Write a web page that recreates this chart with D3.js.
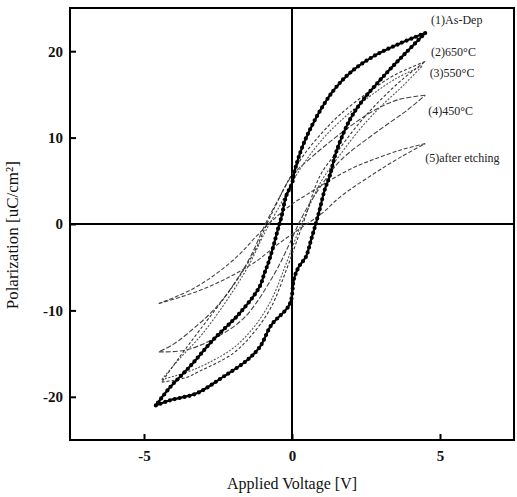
<!DOCTYPE html>
<meta charset="utf-8">
<style>
body { margin: 0; background: #fff; }
svg { display: block; }
.tick text { font-family: "Liberation Serif", "DejaVu Serif", serif; font-size: 15px; font-weight: bold; fill: #111; }
.title { font-family: "Liberation Serif", serif; font-size: 16px; fill: #111; text-anchor: middle; }
.lab { font-family: "Liberation Serif", serif; font-size: 12px; fill: #222; }
</style>
<body>
<script src="https://cdn.jsdelivr.net/npm/d3@7"></script>
<script>
// hysteresis loops, [voltage, polarization]
// each loop: upper branch (from +Vmax down to -Vmax) then lower branch back up
var asDepUp = [[4.5,22.1],[3.65,20.9],[2.75,19.4],[1.96,17.5],[1.39,15.4],[0.83,12.4],[0.38,9.2],[0.1,6.3],[0,4.7],[-0.2,3.2],[-0.35,0.9],[-0.45,-0.3],[-0.6,-2.2],[-0.77,-4.2],[-0.93,-5.7],[-1.1,-7.3],[-1.76,-10.3],[-2.66,-13.4],[-3.45,-16.5],[-4.12,-18.9],[-4.6,-21]];
var asDepDown = [[-4.6,-21],[-4.12,-20.4],[-3.22,-19.6],[-2.33,-17.7],[-1.53,-15.8],[-1.08,-14.2],[-0.7,-11.7],[-0.08,-9.3],[0.07,-6.3],[0.24,-4.9],[0.47,-3.8],[0.64,-1.9],[0.81,0.1],[0.93,1.6],[1.1,3.9],[1.27,5.5],[1.5,8.4],[1.96,12.1],[2.41,14.4],[3.2,17.5],[3.87,19.9],[4.5,22.1]];

var t650Up = [[4.5,18.8],[3.5,17.3],[2.6,15.3],[1.6,12.6],[0.95,10.3],[0.4,8.0],[0,5.8],[-0.4,3.2],[-0.85,0],[-1.3,-3.4],[-2.0,-7.2],[-3.1,-12.2],[-3.8,-15.4],[-4.4,-18.3]];
var t650Down = [[-4.4,-18.3],[-3.6,-17.8],[-3.1,-17.0],[-2.0,-15.0],[-1.3,-12.6],[-0.7,-9.6],[-0.2,-5.4],[0.2,-1.6],[0.45,0.8],[0.95,5.6],[1.6,8.7],[2.3,11.8],[3.0,14.4],[3.75,16.8],[4.5,18.8]];

var t550Up = [[4.4,18.3],[3.5,16.8],[2.6,14.7],[1.6,11.8],[0.95,9.5],[0.4,7.0],[0,4.8],[-0.4,2.2],[-0.95,-1.2],[-1.4,-4.4],[-2.0,-7.8],[-3.0,-12.6],[-3.8,-15.6],[-4.4,-18.0]];
var t550Down = [[-4.4,-18.0],[-3.6,-17.2],[-2.9,-16.2],[-2.0,-14.4],[-1.3,-12.0],[-0.7,-8.8],[-0.2,-4.6],[0.2,-1.0],[0.5,1.4],[1.0,5.0],[1.6,7.9],[2.3,11.0],[3.0,13.6],[3.75,16.0],[4.4,18.3]];

var t450Up = [[4.5,14.9],[3.6,14.4],[2.8,13.2],[1.65,10.5],[0.55,7.4],[0,5.6],[-0.5,2.6],[-0.9,0],[-1.5,-4.4],[-2.5,-9.4],[-3.5,-12.6],[-4.0,-13.9],[-4.5,-14.8]];
var t450Down = [[-4.5,-14.8],[-3.6,-14.6],[-2.6,-13.2],[-1.6,-10.8],[-0.6,-5.8],[-0.1,-2.4],[0.25,0.2],[0.6,2.4],[1.1,5.0],[1.65,7.4],[2.8,10.5],[3.9,13.2],[4.5,14.9]];

var etchUp = [[4.5,9.3],[3.7,8.6],[2.7,7.4],[2.0,6.4],[1.3,5.1],[0.5,3.4],[0,2.3],[-0.6,0.6],[-1.2,-1.4],[-1.8,-3.6],[-2.5,-5.6],[-3.4,-7.6],[-4.5,-9.2]];
var etchDown = [[-4.5,-9.2],[-3.2,-7.8],[-2.1,-6.1],[-1.2,-4.3],[-0.5,-2.4],[0.2,-0.7],[1.0,1.2],[1.65,3.2],[2.8,5.9],[3.7,7.8],[4.5,9.3]];

var labels = ["(1)As-Dep", "(2)650°C", "(3)550°C", "(4)450°C", "(5)after etching"];
var labelAt = [[4.7,23.1],[4.7,19.5],[4.65,17.0],[4.6,12.6],[4.5,7.2]];
var xTicks = [-5, 0, 5];
var yTicks = [-20, -10, 0, 10, 20];

var W = 517, H = 497;
var margin = {top: 8, right: 3, bottom: 57, left: 70};

var svg = d3.select("body").append("svg")
    .attr("width", W)
    .attr("height", H);

var x = d3.scaleLinear().domain([-7.5, 7.5]).range([margin.left, W - margin.right]);
var y = d3.scaleLinear().domain([-25, 25]).range([H - margin.bottom, margin.top]);

var line = d3.line()
    .x(function(d) { return x(d[0]); })
    .y(function(d) { return y(d[1]); })
    .curve(d3.curveCatmullRom.alpha(0.5));

// zero lines
svg.append("line")
    .attr("x1", x(0)).attr("x2", x(0))
    .attr("y1", y(25)).attr("y2", y(-25))
    .attr("stroke", "#000").attr("stroke-width", 2);
svg.append("line")
    .attr("x1", x(-7.5)).attr("x2", x(7.5))
    .attr("y1", y(0)).attr("y2", y(0))
    .attr("stroke", "#000").attr("stroke-width", 2);

// thin loops
var thin = [
  {up: etchUp, down: etchDown, color: "#444", dash: "4,2"},
  {up: t450Up, down: t450Down, color: "#444", dash: "5,2"},
  {up: t550Up, down: t550Down, color: "#555", dash: "2,1.5"},
  {up: t650Up, down: t650Down, color: "#333", dash: "3,2"}
];
thin.forEach(function(s) {
  [s.up, s.down].forEach(function(b) {
    svg.append("path")
        .datum(b)
        .attr("d", line)
        .attr("fill", "none")
        .attr("stroke", s.color)
        .attr("stroke-width", 1.1)
        .attr("stroke-dasharray", s.dash);
  });
});

// thick dotted as-dep loop
[asDepUp, asDepDown].forEach(function(b) {
  svg.append("path")
      .datum(b)
      .attr("d", line)
      .attr("fill", "none")
      .attr("stroke", "#000")
      .attr("stroke-width", 2.2);
  svg.append("path")
      .datum(b)
      .attr("d", line)
      .attr("fill", "none")
      .attr("stroke", "#000")
      .attr("stroke-width", 4.2)
      .attr("stroke-linecap", "round")
      .attr("stroke-dasharray", "0,5");
});

// frame
svg.append("rect")
    .attr("x", margin.left).attr("y", margin.top)
    .attr("width", W - margin.left - margin.right)
    .attr("height", H - margin.top - margin.bottom)
    .attr("fill", "none")
    .attr("stroke", "#000")
    .attr("stroke-width", 2);

// axes with inward ticks
var xAxis = svg.append("g")
    .attr("transform", "translate(0," + y(-25) + ")")
    .call(d3.axisBottom(x).tickValues(xTicks).tickSize(-6).tickPadding(10).tickFormat(d3.format("d")));
var yAxis = svg.append("g")
    .attr("transform", "translate(" + x(-7.5) + ",0)")
    .call(d3.axisLeft(y).tickValues(yTicks).tickSize(-6).tickPadding(7).tickFormat(d3.format("d")));
[xAxis, yAxis].forEach(function(a) {
  a.select(".domain").remove();
  a.selectAll(".tick line").attr("stroke", "#000").attr("stroke-width", 2);
  // plain hyphen like the scan
  a.selectAll(".tick text").text(function(d) { return d < 0 ? "-" + (-d) : d; });
});

// titles
svg.append("text")
    .attr("class", "title")
    .attr("x", x(0))
    .attr("y", 489)
    .text("Applied Voltage [V]");
svg.append("text")
    .attr("class", "title")
    .attr("transform", "translate(18," + y(-1.3) + ") rotate(-90)")
    .style("font-size", "17px")
    .text("Polarization [uC/cm²]");

// curve labels
svg.selectAll(".lab")
    .data(labels)
    .enter().append("text")
    .attr("class", "lab")
    .attr("x", function(d, i) { return x(labelAt[i][0]); })
    .attr("y", function(d, i) { return y(labelAt[i][1]); })
    .text(function(d) { return d; });
</script>
</body>
